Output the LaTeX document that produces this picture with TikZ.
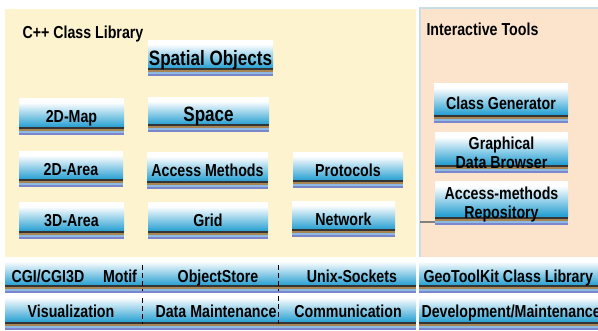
\documentclass[tikz,border=0pt]{standalone}
\usepackage{fontspec}
\setmainfont{Liberation Sans}[FakeStretch=0.82]

\definecolor{panelyellow}{RGB}{253,243,207}
\definecolor{panelpeach}{RGB}{252,228,204}
\definecolor{paneledge}{RGB}{200,222,228}
\definecolor{tileblue}{RGB}{40,160,210}
\definecolor{tilelight}{RGB}{178,218,236}
\definecolor{stripeA}{RGB}{52,52,52}
\definecolor{stripeB}{RGB}{168,134,84}
\definecolor{stripeC}{RGB}{140,186,226}
\definecolor{stripeD}{RGB}{124,134,204}

% the picture is flipped (yscale=-1), so 25bp is the top edge here
\pgfdeclareverticalshading{tileshade}{100bp}{color(0bp)=(tilelight); color(25bp)=(tilelight); color(30bp)=(tileblue); color(36bp)=(tileblue); color(69bp)=(white); color(100bp)=(white)}

\tikzset{every picture/.style={line width=0.75pt}}
\tikzset{
  tile/.style={inner sep=0pt, align=center, text depth=0pt, font=\fontsize{13}{14}\selectfont\bfseries,
    path picture={
      \shade[shading=tileshade] ([yshift=6pt]path picture bounding box.south west) rectangle (path picture bounding box.north east);
      \fill[stripeA] ([yshift=6pt]path picture bounding box.south west) rectangle ([yshift=4.5pt]path picture bounding box.south east);
      \fill[stripeB] ([yshift=4.5pt]path picture bounding box.south west) rectangle ([yshift=3pt]path picture bounding box.south east);
      \fill[stripeC] ([yshift=3pt]path picture bounding box.south west) rectangle ([yshift=1.5pt]path picture bounding box.south east);
      \fill[stripeD] ([yshift=1.5pt]path picture bounding box.south west) rectangle (path picture bounding box.south east);
    }},
  tile size/.style 2 args={minimum width=#1*0.75pt, minimum height=#2*0.75pt},
  bigtile/.style={font=\fontsize{15.6}{17}\selectfont\bfseries},
  bandtext/.style={inner sep=0pt, anchor=base, font=\fontsize{13}{14}\selectfont\bfseries},
  heading/.style={inner sep=0pt, anchor=base west, font=\fontsize{13}{14}\selectfont\bfseries},
  separator/.style={dash pattern=on 4pt off 2pt},
  stubline/.style={draw=gray, line width=1.1pt}
}

\begin{document}
\begin{tikzpicture}[x=0.75pt,y=0.75pt,yscale=-1,xscale=1]
\useasboundingbox (0,0) rectangle (598,330);

% Panels
\fill[panelyellow] (5,9) rectangle (416,257);
\fill[panelpeach] (419,7) rectangle (598,257);
\draw[paneledge, line width=1.5pt] (419.5,257) -- (419.5,7.5) -- (598,7.5);

% Text Node
\node[heading] (cpplib) at (22,38) {C++ Class Library};
% Text Node
\node[heading] (tools) at (426,35) {Interactive Tools};

% Text Node
\node[tile, bigtile, tile size={125}{36}] (spatial) at (210.5,58) {Spatial Objects};
% Text Node
\node[tile, bigtile, tile size={121}{35}] (space) at (208.5,114.5) {Space};
% Text Node
\node[tile, tile size={105}{37}] (map2d) at (71.5,116.5) {2D-Map};
% Text Node
\node[tile, tile size={104}{36}] (area2d) at (71,169) {2D-Area};
% Text Node
\node[tile, tile size={121}{37}] (access) at (207.5,170.5) {Access Methods};
% Text Node
\node[tile, tile size={110}{36}] (protocols) at (348,170) {Protocols};
% Text Node
\node[tile, tile size={105}{37}] (area3d) at (71.5,220.5) {3D-Area};
% Text Node
\node[tile, tile size={120}{37}] (grid) at (208,220.5) {Grid};
% Text Node
\node[tile, tile size={103}{36}] (network) at (343.5,219) {Network};

% Text Node
\node[tile, tile size={134}{40}] (classgen) at (501,103) {Class Generator};
% Text Node
\node[tile, tile size={133}{41}] (browser) at (501.5,152.5) {Graphical\\Data Browser};
% Text Node
\node[tile, tile size={133}{44}] (repo) at (501.5,203) {Access-methods\\Repository};
% Connection
\coordinate (stub) at (420,222);
\draw[stubline] (stub) -- (repo.west |- stub);

% Bands
\node[tile, tile size={411}{36}] (bandleftA) at (210.5,275) {};
\node[tile, tile size={411}{37}] (bandleftB) at (210.5,311.5) {};
\node[tile, tile size={179}{36}] (bandrightA) at (508.5,275) {};
\node[tile, tile size={179}{37}] (bandrightB) at (508.5,311.5) {};

% Separators
\draw[separator] (142,265) -- (142,291);
\draw[separator] (278,265) -- (278,291);
\draw[separator] (142,298) -- (142,324);
\draw[separator] (278,296) -- (278,324);

% Text Node
\node[bandtext] (cgi) at (48,282) {CGI/CGI3D};
% Text Node
\node[bandtext] (motif) at (120,282) {Motif};
% Text Node
\node[bandtext] (objstore) at (218,282) {ObjectStore};
% Text Node
\node[bandtext] (sockets) at (352,282) {Unix-Sockets};
% Text Node
\node[bandtext, anchor=base west] (geolib) at (423,282) {GeoToolKit Class Library};
% Text Node
\node[bandtext] (visual) at (71,317) {Visualization};
% Text Node
\node[bandtext] (datamaint) at (216,317) {Data Maintenance};
% Text Node
\node[bandtext] (comm) at (348,317) {Communication};
% Text Node
\node[bandtext, anchor=base west] (devmaint) at (421,317) {Development/Maintenance};

\end{tikzpicture}
\end{document}
